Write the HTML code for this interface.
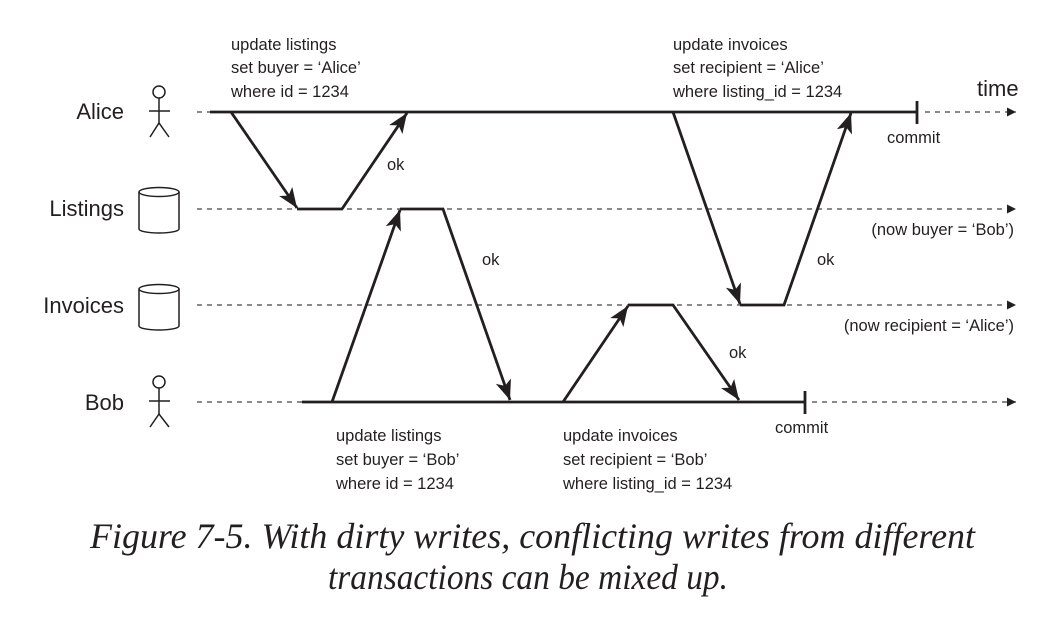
<!DOCTYPE html>
<html><head><meta charset="utf-8"><style>
body{margin:0;background:#fff;}
svg text{font-family:"Liberation Sans",sans-serif;fill:#231f20;}
.cap{font-family:"Liberation Serif",serif;font-style:italic;font-size:36px;fill:#231f20;}
</style></head><body>
<svg width="1062" height="630" viewBox="0 0 1062 630" xmlns="http://www.w3.org/2000/svg">
<defs>
<marker id="a" viewBox="0 0 20 16" refX="20" refY="8" markerWidth="20" markerHeight="16" orient="auto" markerUnits="userSpaceOnUse"><path d="M0,0 L20,8 L0,16 L5,8 Z" fill="#231f20"/></marker>
<marker id="s" viewBox="0 0 10 10" refX="10" refY="5" markerWidth="9" markerHeight="9" orient="auto" markerUnits="userSpaceOnUse"><path d="M0,0 L10,5 L0,10 Z" fill="#231f20"/></marker>
</defs>
<g stroke="#444" stroke-width="1.3" stroke-dasharray="5,5" fill="none">
<line x1="197" y1="112" x2="210" y2="112"/>
<line x1="925" y1="112" x2="1016" y2="112" marker-end="url(#s)"/>
<line x1="197" y1="209" x2="1016" y2="209" marker-end="url(#s)"/>
<line x1="197" y1="305" x2="1016" y2="305" marker-end="url(#s)"/>
<line x1="197" y1="402" x2="302" y2="402"/>
<line x1="812" y1="402" x2="1016" y2="402" marker-end="url(#s)"/>
</g>
<g stroke="#231f20" stroke-width="2.8" fill="none">
<line x1="210" y1="112" x2="917" y2="112"/>
<line x1="917" y1="101" x2="917" y2="124"/>
<line x1="302" y1="402" x2="805" y2="402"/>
<line x1="805" y1="391" x2="805" y2="414"/>
<line x1="231" y1="112" x2="297" y2="208" marker-end="url(#a)"/>
<polyline points="297,209 342,209 407,113" marker-end="url(#a)"/>
<line x1="332" y1="402" x2="400" y2="210" marker-end="url(#a)"/>
<polyline points="400,209 443,209 510,400" marker-end="url(#a)"/>
<line x1="563" y1="402" x2="628" y2="306" marker-end="url(#a)"/>
<polyline points="628,305 673,305 739,400" marker-end="url(#a)"/>
<line x1="673" y1="112" x2="740" y2="304" marker-end="url(#a)"/>
<polyline points="740,305 784,305 851,113" marker-end="url(#a)"/>
</g>
<g stroke="#231f20" stroke-width="1.5" fill="none">
<circle cx="159" cy="92" r="6"/><line x1="159" y1="98" x2="159" y2="123"/><line x1="149" y1="111" x2="170" y2="111"/><polyline points="150,137 159,123 169,137"/>
<circle cx="159" cy="382" r="6"/><line x1="159" y1="388" x2="159" y2="414"/><line x1="149" y1="401" x2="170" y2="401"/><polyline points="150,427 159,414 169,427"/>
<path d="M139,192 v37 a20,4 0 0 0 40,0 v-37"/><ellipse cx="159" cy="192" rx="20" ry="4.5"/>
<path d="M139,289 v37 a20,4 0 0 0 40,0 v-37"/><ellipse cx="159" cy="289" rx="20" ry="4.5"/>
</g>
<g font-size="22" text-anchor="end">
<text x="124" y="119">Alice</text>
<text x="124" y="216">Listings</text>
<text x="124" y="313">Invoices</text>
<text x="124" y="410">Bob</text>
</g>
<text x="977" y="96" font-size="22">time</text>
<g font-size="16.5">
<text x="231" y="50">update listings</text><text x="231" y="73">set buyer = ‘Alice’</text><text x="231" y="97">where id = 1234</text>
<text x="673" y="50">update invoices</text><text x="673" y="73">set recipient = ‘Alice’</text><text x="673" y="97">where listing_id = 1234</text>
<text x="336" y="441">update listings</text><text x="336" y="465">set buyer = ‘Bob’</text><text x="336" y="489">where id = 1234</text>
<text x="563" y="441">update invoices</text><text x="563" y="465">set recipient = ‘Bob’</text><text x="563" y="489">where listing_id = 1234</text>
<text x="387" y="170">ok</text><text x="482" y="265">ok</text><text x="817" y="265">ok</text><text x="729" y="358">ok</text>
<text x="887" y="143">commit</text><text x="775" y="433">commit</text>
<text x="1014" y="235" text-anchor="end">(now buyer = ‘Bob’)</text>
<text x="1014" y="331" text-anchor="end">(now recipient = ‘Alice’)</text>
</g>
<text class="cap" x="90" y="548" textLength="885" lengthAdjust="spacingAndGlyphs">Figure 7-5. With dirty writes, conflicting writes from different</text>
<text class="cap" x="328" y="589" textLength="400" lengthAdjust="spacingAndGlyphs">transactions can be mixed up.</text>
</svg>
</body></html>
